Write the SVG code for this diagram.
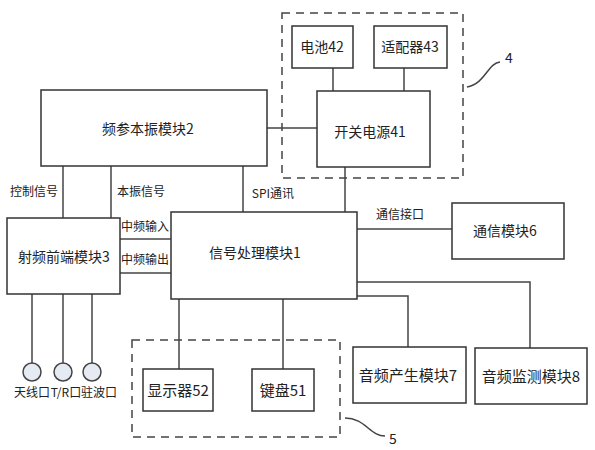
<svg xmlns="http://www.w3.org/2000/svg" width="595" height="450" viewBox="0 0 595 450">
<style>
.box{fill:#fff;stroke:#333;stroke-width:1.5}
.dash{fill:none;stroke:#444;stroke-width:1.5;stroke-dasharray:8,6}
.ln{fill:none;stroke:#444;stroke-width:1.5}
.t{font-family:"Noto Sans CJK SC","Noto Sans",sans-serif;fill:#222;text-anchor:middle;dominant-baseline:central}
.b{font-size:14px}
.b15{font-size:15px}
.s{font-size:12px}
.port{fill:#e6eaf2;stroke:#444;stroke-width:1.5}
</style>
<rect width="595" height="450" fill="#fff"/>
<g id="connectors">
<line class="ln" x1="267" y1="128" x2="317" y2="128"/>
<line class="ln" x1="333" y1="68" x2="333" y2="91"/>
<line class="ln" x1="404" y1="68" x2="404" y2="91"/>
<line class="ln" x1="345" y1="167" x2="345" y2="212"/>
<line class="ln" x1="63" y1="166" x2="63" y2="218"/>
<line class="ln" x1="111" y1="166" x2="111" y2="218"/>
<line class="ln" x1="243" y1="166" x2="243" y2="212"/>
<line class="ln" x1="120" y1="239" x2="171" y2="239"/>
<line class="ln" x1="120" y1="273" x2="171" y2="273"/>
<line class="ln" x1="357" y1="229" x2="452" y2="229"/>
<polyline class="ln" points="357,282 530,282 530,348"/>
<polyline class="ln" points="357,296 408,296 408,347"/>
<line class="ln" x1="179" y1="299" x2="179" y2="369"/>
<line class="ln" x1="283" y1="299" x2="283" y2="369"/>
<line class="ln" x1="32" y1="294" x2="32" y2="363"/>
<line class="ln" x1="63" y1="294" x2="63" y2="363"/>
<line class="ln" x1="92" y1="294" x2="92" y2="363"/>
<path class="ln" d="M467,87 C485,84 488,63 500,62" stroke-width="1"/>
<path class="ln" d="M345,418 C365,418 370,436 385,436" stroke-width="1"/>
</g>
<g id="group4">
<rect class="dash" x="282" y="13" width="181" height="165"/>
<text class="t b" x="509" y="57">4</text>
</g>
<g id="group5">
<rect class="dash" x="132" y="340" width="208" height="97"/>
<text class="t b" x="393" y="438">5</text>
</g>
<g id="node2"><rect class="box" x="41" y="90" width="226" height="76"/><text class="t b" x="148" y="128">频参本振模块2</text></g>
<g id="node42"><rect class="box" x="292" y="26" width="61" height="42"/><text class="t b" x="322" y="46">电池42</text></g>
<g id="node43"><rect class="box" x="374" y="26" width="73" height="42"/><text class="t b" x="410" y="46">适配器43</text></g>
<g id="node41"><rect class="box" x="317" y="91" width="113" height="76"/><text class="t b" x="370" y="131">开关电源41</text></g>
<g id="node3"><rect class="box" x="7" y="218" width="113" height="76"/><text class="t b" x="64" y="256">射频前端模块3</text></g>
<g id="node1"><rect class="box" x="171" y="212" width="186" height="87"/><text class="t b" x="255" y="252">信号处理模块1</text></g>
<g id="node6"><rect class="box" x="452" y="203" width="112" height="56"/><text class="t b" x="505" y="230">通信模块6</text></g>
<g id="node7"><rect class="box" x="353" y="347" width="113" height="56"/><text class="t b15" x="408" y="374">音频产生模块7</text></g>
<g id="node8"><rect class="box" x="475" y="348" width="112" height="56"/><text class="t b15" x="531" y="375">音频监测模块8</text></g>
<g id="node52"><rect class="box" x="143" y="369" width="70" height="42"/><text class="t b15" x="178" y="389">显示器52</text></g>
<g id="node51"><rect class="box" x="252" y="369" width="62" height="42"/><text class="t b15" x="283" y="389">键盘51</text></g>
<g id="ports">
<circle class="port" cx="32" cy="372" r="9"/>
<circle class="port" cx="63" cy="372" r="9"/>
<circle class="port" cx="92" cy="372" r="9"/>
<text class="t s" x="32" y="391">天线口</text>
<text class="t s" x="66" y="391">T/R口</text>
<text class="t s" x="99" y="391">驻波口</text>
</g>
<g id="labels">
<text class="t s" x="34" y="190">控制信号</text>
<text class="t s" x="141" y="190">本振信号</text>
<text class="t s" x="273" y="192">SPI通讯</text>
<text class="t s" x="145" y="225">中频输入</text>
<text class="t s" x="145" y="258">中频输出</text>
<text class="t s" x="400" y="213">通信接口</text>
</g>
</svg>
